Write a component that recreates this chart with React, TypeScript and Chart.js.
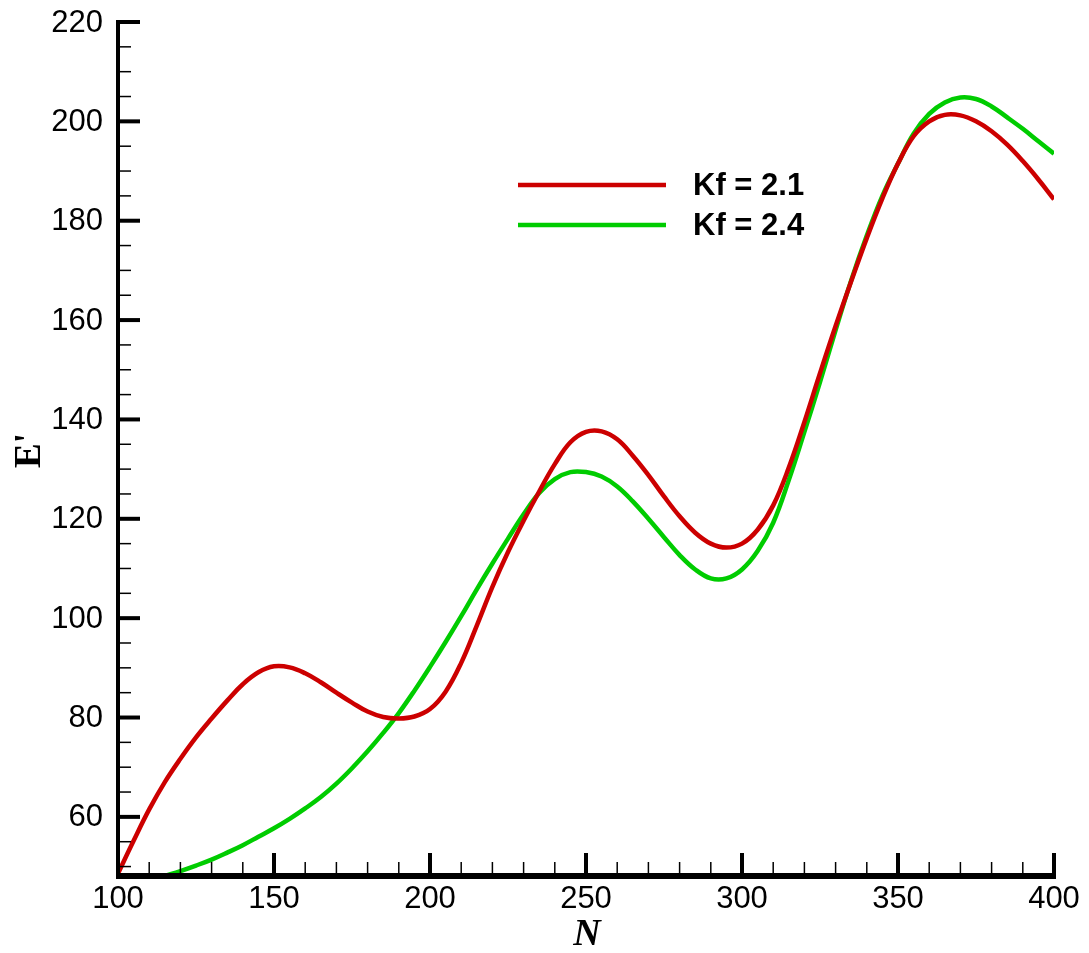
import React, { useEffect, useRef } from "react";
import { Chart, registerables } from "chart.js";

Chart.register(...registerables);

const N_VALUES = [
  100, 105, 110, 115, 120, 125, 130, 135, 140, 145, 150, 155, 160, 165, 170, 175, 180, 185, 190, 195,
  200, 205, 210, 215, 220, 225, 230, 235, 240, 245, 250, 255, 260, 265, 270, 275, 280, 285, 290, 295,
  300, 305, 310, 315, 320, 325, 330, 335, 340, 345, 350, 355, 360, 365, 370, 375, 380, 385, 390, 395, 400,
];

const KF21 = [
  48.6, 55.2, 61.5, 67.0, 71.7, 76.0, 79.8, 83.4, 86.7, 89.1, 90.3, 90.1, 88.9, 87.1, 85.0, 83.0, 81.2, 80.1, 79.8, 80.2,
  81.7, 85.2, 91.0, 98.5, 106.3, 113.3, 119.6, 125.5, 131.0, 135.4, 137.5, 137.6, 136.0, 132.7, 128.8, 124.5, 120.5, 117.2, 115.0, 114.2,
  115.0, 117.8, 122.7, 130.3, 139.5, 149.3, 158.8, 167.8, 176.5, 184.5, 191.5, 197.0, 200.0, 201.3, 201.2, 200.0, 198.0, 195.3, 192.0, 188.3, 184.3,
];

const KF24 = [
  45.2, 46.1, 47.1, 48.1, 49.1, 50.2, 51.4, 52.8, 54.3, 56.0, 57.7, 59.6, 61.7, 64.0, 66.7, 69.8, 73.2, 76.9, 80.9, 85.4,
  90.2, 95.2, 100.4, 105.8, 111.0, 116.0, 120.9, 125.2, 128.0, 129.4, 129.4, 128.5, 126.5, 123.5, 120.0, 116.3, 112.7, 109.8, 108.0, 108.0,
  109.8, 113.5, 119.2, 127.8, 137.5, 147.5, 158.0, 168.0, 177.0, 185.0, 191.5, 197.5, 201.5, 203.8, 204.8, 204.5, 203.0, 200.8, 198.5, 196.0, 193.5,
];

const SERIES_LABELS = ["Kf = 2.1", "Kf = 2.4"];
const SERIES_COLORS = ["#cc0000", "#00cc00"];
const X_TICKS = [100, 150, 200, 250, 300, 350, 400];
const Y_TICKS = [60, 80, 100, 120, 140, 160, 180, 200, 220];
const X_MIN = 100;
const X_MAX = 400;
const Y_MIN = 48.3;
const Y_MAX = 220;

const axesPlugin = {
  id: "tecAxes",
  afterDraw(chart: any) {
    const ctx = chart.ctx as CanvasRenderingContext2D;
    const xs = chart.scales.x;
    const ys = chart.scales.y;
    const left = xs.getPixelForValue(X_MIN);
    const right = xs.getPixelForValue(X_MAX);
    const top = ys.getPixelForValue(Y_MAX);
    const bottom = ys.getPixelForValue(Y_MIN);
    ctx.save();
    ctx.strokeStyle = "#000";
    ctx.lineCap = "butt";
    // minor ticks
    ctx.lineWidth = 1.5;
    for (let v = 50; v <= 220; v += 5) {
      if (v % 20 === 0 || v < Y_MIN) continue;
      const y = ys.getPixelForValue(v);
      ctx.beginPath();
      ctx.moveTo(left, y);
      ctx.lineTo(left + 13, y);
      ctx.stroke();
    }
    for (let v = 110; v < 400; v += 10) {
      if (v % 50 === 0) continue;
      const x = xs.getPixelForValue(v);
      ctx.beginPath();
      ctx.moveTo(x, bottom);
      ctx.lineTo(x, bottom - 13);
      ctx.stroke();
    }
    // major ticks
    ctx.lineWidth = 4;
    for (const v of Y_TICKS) {
      const y = ys.getPixelForValue(v);
      ctx.beginPath();
      ctx.moveTo(left, y);
      ctx.lineTo(left + 22, y);
      ctx.stroke();
    }
    for (const v of X_TICKS) {
      const x = xs.getPixelForValue(v);
      ctx.beginPath();
      ctx.moveTo(x, bottom);
      ctx.lineTo(x, bottom - 22);
      ctx.stroke();
    }
    // axis lines
    ctx.lineWidth = 4;
    ctx.beginPath();
    ctx.moveTo(left, top - 2);
    ctx.lineTo(left, bottom + 2);
    ctx.lineTo(right + 2, bottom + 2);
    ctx.stroke();
    ctx.beginPath();
    ctx.moveTo(left - 2, bottom);
    ctx.lineTo(right, bottom);
    ctx.stroke();

    // tick labels
    ctx.fillStyle = "#000";
    ctx.font = "31px 'Liberation Sans', Arial, sans-serif";
    ctx.textAlign = "right";
    ctx.textBaseline = "middle";
    for (const v of Y_TICKS) {
      ctx.fillText(String(v), left - 15, ys.getPixelForValue(v) + 1);
    }
    ctx.textAlign = "center";
    ctx.textBaseline = "middle";
    for (const v of X_TICKS) {
      ctx.fillText(String(v), xs.getPixelForValue(v), bottom + 24);
    }

    // axis titles
    ctx.font = "bold italic 38px 'Liberation Serif', 'Times New Roman', serif";
    ctx.fillText("N", (left + right) / 2 + 1, bottom + 60);
    ctx.save();
    ctx.translate(30, (top + bottom) / 2 + 2);
    ctx.rotate(-Math.PI / 2);
    ctx.font = "bold 37px 'Liberation Serif', 'Times New Roman', serif";
    ctx.fillText("E'", 0, 0);
    ctx.restore();

    // legend
    const legendY = [185, 225];
    ctx.font = "bold 31px 'Liberation Sans', Arial, sans-serif";
    ctx.textAlign = "left";
    ctx.textBaseline = "middle";
    for (let i = 0; i < SERIES_LABELS.length; i++) {
      ctx.strokeStyle = SERIES_COLORS[i];
      ctx.lineWidth = 4.5;
      ctx.beginPath();
      ctx.moveTo(518, legendY[i]);
      ctx.lineTo(666, legendY[i]);
      ctx.stroke();
      ctx.fillStyle = "#000";
      ctx.fillText(SERIES_LABELS[i], 693, legendY[i] + 1);
    }
    ctx.restore();
  },
};

export default function App() {
  const canvasRef = useRef<HTMLCanvasElement | null>(null);

  useEffect(() => {
    const canvas = canvasRef.current;
    if (!canvas) return;
    const toPoints = (vals: number[]) => N_VALUES.map((n, i) => ({ x: n, y: vals[i] }));
    const chart = new Chart(canvas, {
      type: "line",
      data: {
        datasets: [
          {
            label: SERIES_LABELS[0],
            data: toPoints(KF21),
            borderColor: SERIES_COLORS[0],
            borderWidth: 4.5,
            pointRadius: 0,
            tension: 0.4,
            fill: false,
            clip: 0,
          },
          {
            label: SERIES_LABELS[1],
            data: toPoints(KF24),
            borderColor: SERIES_COLORS[1],
            borderWidth: 4.5,
            pointRadius: 0,
            tension: 0.4,
            fill: false,
            clip: 0,
          },
        ],
      },
      options: {
        responsive: false,
        animation: false,
        events: [],
        layout: { padding: { left: 118, right: 35, top: 22, bottom: 78 } },
        plugins: { legend: { display: false }, tooltip: { enabled: false } },
        scales: {
          x: { type: "linear", min: X_MIN, max: X_MAX, display: false },
          y: { type: "linear", min: Y_MIN, max: Y_MAX, display: false },
        },
      },
      plugins: [axesPlugin],
    } as any);
    return () => chart.destroy();
  }, []);

  return (
    <div style={{ position: "fixed", left: 0, top: 0, width: 1089, height: 953, background: "#fff" }}>
      <canvas ref={canvasRef} width={1089} height={953} style={{ width: 1089, height: 953, display: "block" }} />
    </div>
  );
}
